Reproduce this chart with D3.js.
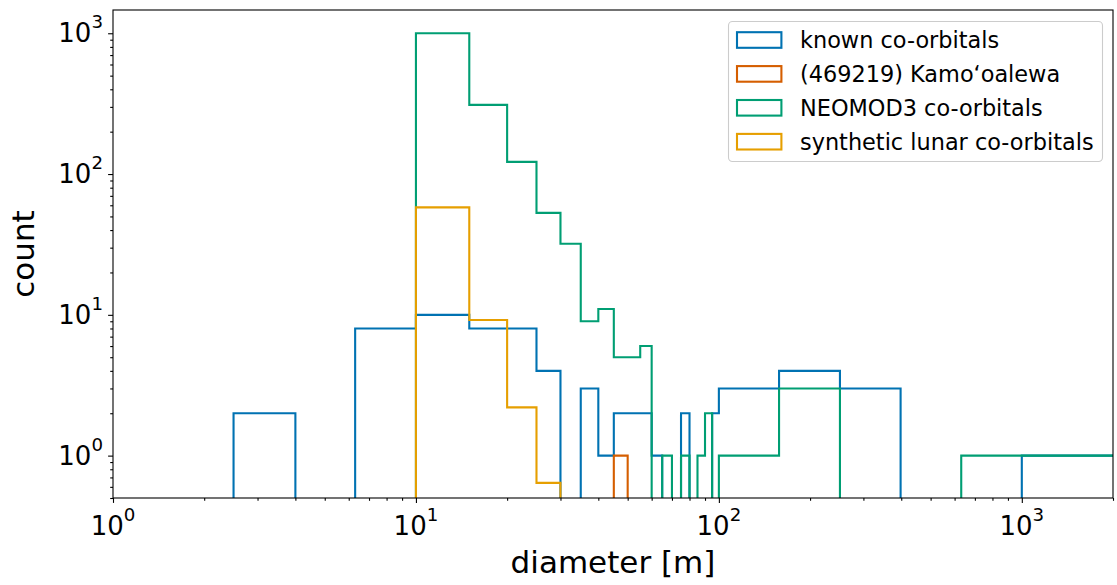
<!DOCTYPE html>
<html>
<head>
<meta charset="utf-8">
<title>co-orbital diameters</title>
<script src="https://cdn.jsdelivr.net/npm/d3@7"></script>
<style>
  body { margin: 0; background: #fff; }
  text { font-family: "DejaVu Sans", sans-serif; fill: #000; }
</style>
</head>
<body>
<div id="chart"></div>
<script>
// histogram bin edges, diameter [m]
const binEdges = [2.5, 4.0, 6.3, 10, 15, 20, 25, 30, 35, 40, 45, 50, 55, 60, 65, 70,
                  75, 80, 85, 90, 95, 100, 158, 251, 398, 631, 1000, 1585, 2512]

// counts per bin (one value per bin, 28 bins)
const knownCounts  = [2, 0, 8, 10, 8, 8, 4, 0, 3, 1, 2, 2, 2, 1, 0, 0, 2, 0, 0, 0, 2, 3, 4, 3, 0, 0, 1, 1]
const kamoCounts   = [0, 0, 0, 0, 0, 0, 0, 0, 0, 0, 1, 0, 0, 0, 0, 0, 0, 0, 0, 0, 0, 0, 0, 0, 0, 0, 0, 0]
const neomodCounts = [0, 0, 0, 1000, 310, 122, 53, 32, 9, 11, 5, 5, 6, 0, 1, 0, 1, 0, 1, 2, 0, 1, 3, 0, 0, 1, 1, 1]
const lunarCounts  = [0, 0, 0, 58, 9.2, 2.2, 0.64, 0, 0, 0, 0, 0, 0, 0, 0, 0, 0, 0, 0, 0, 0, 0, 0, 0, 0, 0, 0, 0]

const seriesNames  = ["known co-orbitals", "(469219) Kamo\u2018oalewa", "NEOMOD3 co-orbitals", "synthetic lunar co-orbitals"]
const seriesColors = ["#0072b2", "#d55e00", "#009e73", "#e69f00"]

const xMajorTicks = [1, 10, 100, 1000]
const yMajorTicks = [1, 10, 100, 1000]
const xDomain = [1, 2000]
const yDomain = [0.5, 1463]

const W = 1117, H = 585
const plotL = 113, plotT = 10, plotR = 1113, plotB = 498
const tickFont = 26, labelFont = 31, legendFont = 22.4

const x = d3.scaleLog().domain(xDomain).range([plotL, plotR])
const y = d3.scaleLog().domain(yDomain).range([plotB, plotT])

const svg = d3.select("#chart").append("svg")
  .attr("width", W)
  .attr("height", H)

svg.append("clipPath").attr("id", "plot")
  .append("rect")
  .attr("x", plotL).attr("y", plotT)
  .attr("width", plotR - plotL).attr("height", plotB - plotT)

// step outlines, zero bins drop below the clip
const yv = c => c > 0 ? y(c) : plotB + 10
const line = d3.line()

const series = [knownCounts, kamoCounts, neomodCounts, lunarCounts]
series.forEach((counts, k) => {
  const pts = [[x(binEdges[0]), plotB + 10]]
  counts.forEach((c, i) => {
    pts.push([x(binEdges[i]), yv(c)])
    pts.push([x(binEdges[i + 1]), yv(c)])
  })
  pts.push([x(binEdges[binEdges.length - 1]), plotB + 10])

  svg.append("path")
    .attr("clip-path", "url(#plot)")
    .attr("d", line(pts))
    .attr("fill", "none")
    .attr("stroke", seriesColors[k])
    .attr("stroke-width", 2.1)
    .attr("stroke-linejoin", "miter")
})

// minor ticks 2..9 per decade
const minorTicks = (dom) => {
  const out = []
  for (let e = -1; e <= 3; e++)
    for (let m = 2; m <= 9; m++) {
      const v = m * Math.pow(10, e)
      if (v >= dom[0] && v <= dom[1]) out.push(v)
    }
  return out
}

const powLabel = (sel) => {
  sel.each(function (v) {
    const t = d3.select(this).text(null)
    t.append("tspan").text("10")
    t.append("tspan")
      .attr("dy", -14)
      .style("font-size", (tickFont * 0.7) + "px")
      .text(Math.round(Math.log10(v)))
  })
}

// x axis
const gx = svg.append("g").attr("transform", `translate(0,${plotB})`)
gx.call(d3.axisBottom(x).tickValues(minorTicks(xDomain)).tickSize(2.8).tickFormat(""))
gx.append("g").call(d3.axisBottom(x).tickValues(xMajorTicks).tickSize(4.9).tickFormat(""))
gx.selectAll(".domain").remove()
gx.selectAll("line").attr("stroke", "#000").attr("stroke-width", 1.1)

svg.append("g").selectAll("text")
  .data(xMajorTicks)
  .join("text")
  .attr("x", d => x(d))
  .attr("y", 535)
  .attr("text-anchor", "middle")
  .style("font-size", tickFont + "px")
  .call(powLabel)

// y axis
const gy = svg.append("g").attr("transform", `translate(${plotL},0)`)
gy.call(d3.axisLeft(y).tickValues(minorTicks(yDomain)).tickSize(2.8).tickFormat(""))
gy.append("g").call(d3.axisLeft(y).tickValues(yMajorTicks).tickSize(4.9).tickFormat(""))
gy.selectAll(".domain").remove()
gy.selectAll("line").attr("stroke", "#000").attr("stroke-width", 1.1)

svg.append("g").selectAll("text")
  .data(yMajorTicks)
  .join("text")
  .attr("x", plotL - 10)
  .attr("y", d => y(d) + 9)
  .attr("text-anchor", "end")
  .style("font-size", tickFont + "px")
  .call(powLabel)

// spines
svg.append("rect")
  .attr("x", plotL).attr("y", plotT)
  .attr("width", plotR - plotL).attr("height", plotB - plotT)
  .attr("fill", "none")
  .attr("stroke", "#000")
  .attr("stroke-width", 1.1)

// axis labels
svg.append("text")
  .attr("x", (plotL + plotR) / 2)
  .attr("y", 573)
  .attr("text-anchor", "middle")
  .style("font-size", labelFont + "px")
  .text("diameter [m]")

svg.append("text")
  .attr("transform", `translate(34,${(plotT + plotB) / 2}) rotate(-90)`)
  .attr("text-anchor", "middle")
  .style("font-size", labelFont + "px")
  .text("count")

// legend
const lg = svg.append("g")
lg.append("rect")
  .attr("x", 728.5).attr("y", 21.5)
  .attr("width", 374).attr("height", 140)
  .attr("rx", 4)
  .attr("fill", "#fff").attr("fill-opacity", 0.8)
  .attr("stroke", "#cccccc").attr("stroke-width", 1.1)

const rowY = i => 40 + i * 33.9
const items = lg.selectAll("g.item")
  .data(seriesNames)
  .join("g")
  .attr("class", "item")

items.append("rect")
  .attr("x", 737)
  .attr("y", (d, i) => rowY(i) - 7.8)
  .attr("width", 44.4)
  .attr("height", 15.6)
  .attr("fill", "none")
  .attr("stroke", (d, i) => seriesColors[i])
  .attr("stroke-width", 2.1)

items.append("text")
  .attr("x", 800)
  .attr("y", (d, i) => rowY(i) + 8.2)
  .style("font-size", legendFont + "px")
  .text(d => d)
</script>
</body>
</html>
